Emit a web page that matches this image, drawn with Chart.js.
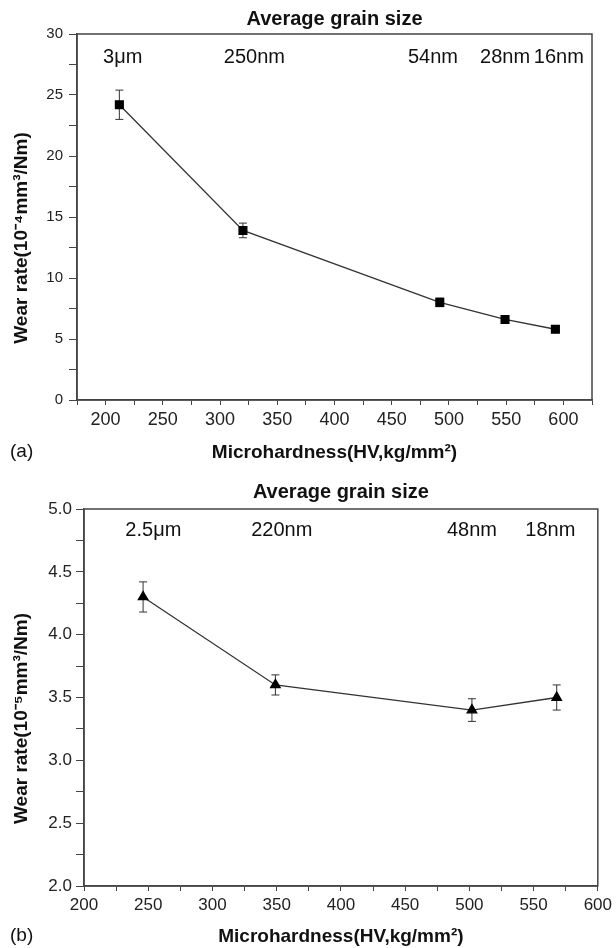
<!DOCTYPE html>
<html>
<head>
<meta charset="UTF-8">
<script src="https://cdn.jsdelivr.net/npm/chart.js"></script>
<style>
  body { margin: 0; background: #fff; }
  .panel { position: absolute; left: 0; width: 616px; }
</style>
</head>
<body>
<div class="panel" style="top:0;height:470px"><canvas id="chartA"></canvas></div>
<div class="panel" style="top:470px;height:478px"><canvas id="chartB"></canvas></div>
<script>
// panel (a)
const hardnessA = [212, 320, 492, 549, 593];
const wearA = [24.2, 13.9, 8.0, 6.6, 5.8];
const errA = [1.2, 0.6, 0.35, 0.15, 0.15];
const grainA = ['3μm', '250nm', '54nm', '28nm', '16nm'];
const grainAtA = [215, 330, 486, 549, 596]; // hardness where each grain label is centred

// panel (b)
const hardnessB = [246, 349, 502, 568];
const wearB = [4.3, 3.6, 3.4, 3.5];
const errB = [0.12, 0.08, 0.09, 0.1];
const grainB = ['2.5μm', '220nm', '48nm', '18nm'];
const grainAtB = [254, 354, 502, 563];

const FONT = '"Liberation Sans", Arial, Helvetica, sans-serif';
const INK = '#444';

// error bars, frame, grain size labels, y title, panel letter
const extras = {
  id: 'extras',
  beforeDatasetsDraw(chart, args, o) {
    const { ctx, scales: { x, y } } = chart;
    const pts = chart.data.datasets[0].data;
    ctx.save();
    ctx.strokeStyle = '#333';
    ctx.lineWidth = 1;
    pts.forEach((p, i) => {
      const px = x.getPixelForValue(p.x);
      const t = y.getPixelForValue(p.y + o.err[i]);
      const b = y.getPixelForValue(p.y - o.err[i]);
      ctx.beginPath();
      ctx.moveTo(px, t); ctx.lineTo(px, b);
      ctx.moveTo(px - 4, t); ctx.lineTo(px + 4, t);
      ctx.moveTo(px - 4, b); ctx.lineTo(px + 4, b);
      ctx.stroke();
    });
    ctx.restore();
  },
  afterDraw(chart, args, o) {
    const { ctx, chartArea: a, scales: { x } } = chart;
    ctx.save();
    ctx.strokeStyle = INK;
    ctx.lineWidth = 1.5;
    ctx.strokeRect(a.left, a.top, a.right - a.left, a.bottom - a.top);
    ctx.fillStyle = '#111';
    ctx.textAlign = 'center';
    ctx.textBaseline = 'middle';
    ctx.font = 'bold 20px ' + FONT;
    ctx.fillText('Average grain size', (a.left + a.right) / 2, o.titleY);
    ctx.font = '20px ' + FONT;
    o.grain.forEach((g, i) => {
      ctx.fillText(g, x.getPixelForValue(o.grainAt[i]), a.top + o.grainDy);
    });
    ctx.textAlign = 'left';
    ctx.font = '19px ' + FONT;
    ctx.fillText(o.letter, 10, o.letterY);
    // y axis title, sitting a little below the axis middle as in the original
    ctx.translate(22, (a.top + a.bottom) / 2 + 21);
    ctx.rotate(-Math.PI / 2);
    ctx.textAlign = 'center';
    ctx.font = 'bold 19px ' + FONT;
    ctx.fillText(o.yTitle, 0, 0);
    ctx.restore();
  }
};

function makeChart(id, xs, ys, cfg) {
  return new Chart(document.getElementById(id), {
    type: 'scatter',
    data: {
      datasets: [{
        data: xs.map((h, i) => ({ x: h, y: ys[i] })),
        showLine: true,
        borderColor: '#333',
        borderWidth: 1.3,
        backgroundColor: '#000',
        pointBackgroundColor: '#000',
        pointBorderColor: '#000',
        pointStyle: cfg.marker,
        pointRadius: cfg.radius,
        pointHoverRadius: cfg.radius
      }]
    },
    options: {
      responsive: true,
      maintainAspectRatio: false,
      animation: false,
      layout: { padding: cfg.padding },
      plugins: {
        legend: { display: false },
        tooltip: { enabled: false },
        extras: cfg.extras
      },
      scales: {
        x: {
          type: 'linear',
          min: cfg.xMin, max: cfg.xMax,
          afterFit: s => { s.height = cfg.xHeight; },
          border: { color: INK, width: 1.5 },
          grid: { drawOnChartArea: false, tickLength: 5, color: INK, tickColor: INK },
          ticks: {
            stepSize: 25, autoSkip: false, maxRotation: 0, padding: 4,
            color: '#222', font: { family: FONT, size: cfg.xFont },
            callback: v => v % 50 === 0 ? v : ''
          },
          title: {
            display: true,
            text: 'Microhardness(HV,kg/mm²)',
            color: '#111',
            font: { family: FONT, size: 19, weight: 'bold' },
            padding: { top: 0, bottom: cfg.xTitlePad }
          }
        },
        y: {
          type: 'linear',
          min: cfg.yMin, max: cfg.yMax,
          afterFit: s => { s.width = cfg.yWidth; },
          border: { color: INK, width: 1.5 },
          grid: { drawOnChartArea: false, tickLength: 8, color: INK, tickColor: INK },
          ticks: {
            stepSize: cfg.yStep / 2, autoSkip: false, padding: cfg.yTickPad,
            color: '#222', font: { family: FONT, size: cfg.yFont },
            callback: v => Math.abs(v / cfg.yStep - Math.round(v / cfg.yStep)) < 1e-6 ? v.toFixed(cfg.yDec) : ''
          }
        }
      }
    },
    plugins: [extras]
  });
}

makeChart('chartA', hardnessA, wearA, {
  marker: 'rect', radius: 5.5,
  padding: { top: 34, right: 24, left: 0, bottom: 0 },
  xMin: 175, xMax: 625, xHeight: 70, xTitlePad: 6, xFont: 18,
  yMin: 0, yMax: 30, yStep: 5, yDec: 0, yWidth: 77, yTickPad: 6, yFont: 15,
  extras: { err: errA, grain: grainA, grainAt: grainAtA, titleY: 19, grainDy: 23,
            letter: '(a)', letterY: 452, yTitle: 'Wear rate(10⁻⁴mm³/Nm)' }
});

makeChart('chartB', hardnessB, wearB, {
  marker: 'triangle', radius: 5.5,
  padding: { top: 39, right: 14, left: 0, bottom: 0 },
  xMin: 200, xMax: 600, xHeight: 62, xTitlePad: 0, xFont: 17,
  yMin: 2, yMax: 5, yStep: 0.5, yDec: 1, yWidth: 84, yTickPad: 4, yFont: 17,
  extras: { err: errB, grain: grainB, grainAt: grainAtB, titleY: 22, grainDy: 21,
            letter: '(b)', letterY: 466, yTitle: 'Wear rate(10⁻⁵mm³/Nm)' }
});
</script>
</body>
</html>
